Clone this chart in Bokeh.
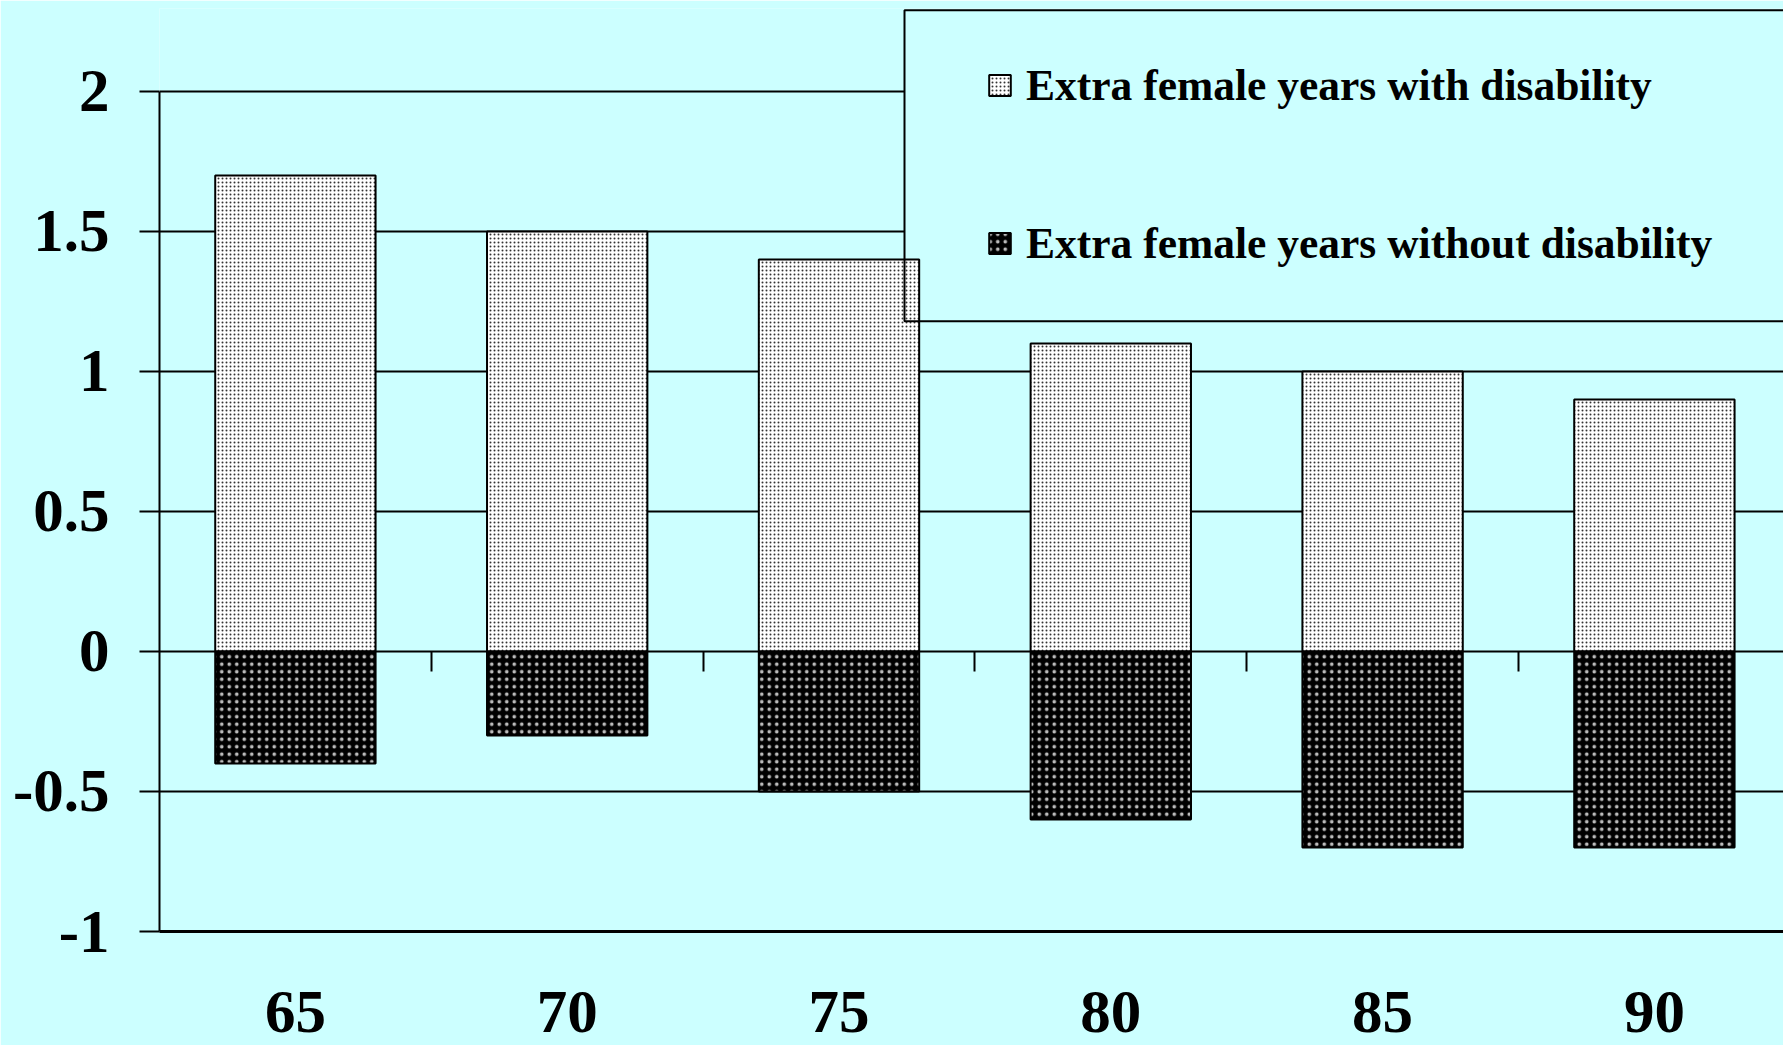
from bokeh.plotting import figure
from bokeh.models import (Range1d, FixedTicker, LinearAxis, Legend, LegendItem,
                          BoxAnnotation, Grid)
from bokeh.embed import file_html
from bokeh.resources import INLINE

ages = ["65", "70", "75", "80", "85", "90"]
with_disability = [1.7, 1.5, 1.4, 1.1, 1.0, 0.9]
without_disability = [-0.4, -0.3, -0.5, -0.6, -0.7, -0.7]
y_ticks = [-1, -0.5, 0, 0.5, 1, 1.5, 2]
y_tick_labels = ["-1", "-0.5", "0", "0.5", "1", "1.5", "2"]
series_names = ["Extra female years with disability",
                "Extra female years without disability"]

x_pos = [i + 0.5 for i in range(len(ages))]
boundaries = list(range(1, len(ages)))

BG = "#CCFFFF"
FONT = "Liberation Serif"

p = figure(width=1783, height=1045,
           x_range=Range1d(0, 5.975), y_range=Range1d(-1, 2.2964),
           output_backend="svg", toolbar_location=None,
           x_axis_type=None, y_axis_type=None,
           min_border_left=159, min_border_top=8, min_border_bottom=114, min_border_right=0,
           background_fill_color=BG, border_fill_color=BG, outline_line_color=None)

grid = Grid(dimension=1, ticker=FixedTicker(ticks=y_ticks),
            grid_line_color="black", grid_line_width=2)
p.add_layout(grid)

# legend frame (fill under bars, border over bars)
box_fill = BoxAnnotation(left=2.741, right=7, bottom=1.179, top=2.29,
                         fill_color=BG, fill_alpha=1, line_color=None, level="underlay")
p.add_layout(box_fill)

r1 = p.vbar(x=x_pos, top=with_disability, bottom=0, width=0.59,
            fill_color="white", hatch_pattern="dot", hatch_color="#333333",
            hatch_scale=4, hatch_weight=1.3, line_color="black", line_width=2)
r2 = p.vbar(x=x_pos, top=0, bottom=without_disability, width=0.59,
            fill_color="black", hatch_pattern="dot", hatch_color="#bbbbbb",
            hatch_scale=7.5, hatch_weight=1.1, line_color="black", line_width=2)

box_line = BoxAnnotation(left=2.741, right=7, bottom=1.179, top=2.29,
                         fill_color=None, fill_alpha=0, line_color="black",
                         line_alpha=1, line_width=2)
p.add_layout(box_line)

yaxis = LinearAxis(ticker=FixedTicker(ticks=y_ticks),
                   major_label_overrides=dict(zip(y_ticks, y_tick_labels)),
                   bounds=(-1, 2), axis_line_color="black", axis_line_width=2,
                   major_tick_out=20, major_tick_in=0, major_tick_line_width=2,
                   minor_tick_out=0, minor_tick_in=0, major_label_standoff=30,
                   major_label_text_font=FONT, major_label_text_font_style="bold",
                   major_label_text_font_size="61px", major_label_text_color="black")
p.add_layout(yaxis, "left")

xaxis = LinearAxis(ticker=FixedTicker(ticks=x_pos),
                   major_label_overrides=dict(zip(x_pos, ages)),
                   axis_line_color="black", axis_line_width=3,
                   major_tick_out=0, major_tick_in=0, minor_tick_out=0, minor_tick_in=0,
                   major_label_standoff=60,
                   major_label_text_font=FONT, major_label_text_font_style="bold",
                   major_label_text_font_size="61px", major_label_text_color="black")
p.add_layout(xaxis, "below")

zero_ticks = LinearAxis(ticker=FixedTicker(ticks=boundaries), fixed_location=0,
                        axis_line_color=None, major_tick_in=20, major_tick_out=0,
                        major_tick_line_width=2, minor_tick_out=0, minor_tick_in=0,
                        major_label_standoff=0, major_label_text_font_size="0px",
                        major_label_text_alpha=0)
p.add_layout(zero_ticks, "above")

legend = Legend(items=[LegendItem(label=series_names[0], renderers=[r1]),
                       LegendItem(label=series_names[1], renderers=[r2])],
                location=(827, 663), orientation="vertical",
                background_fill_alpha=0, border_line_color=None,
                label_text_font=FONT, label_text_font_style="bold",
                label_text_font_size="43.5px", label_text_color="black",
                glyph_width=27, glyph_height=26, label_standoff=13,
                spacing=108, padding=10, margin=0)
p.add_layout(legend, "center")

open("out.html", "w").write(file_html(p, INLINE))
